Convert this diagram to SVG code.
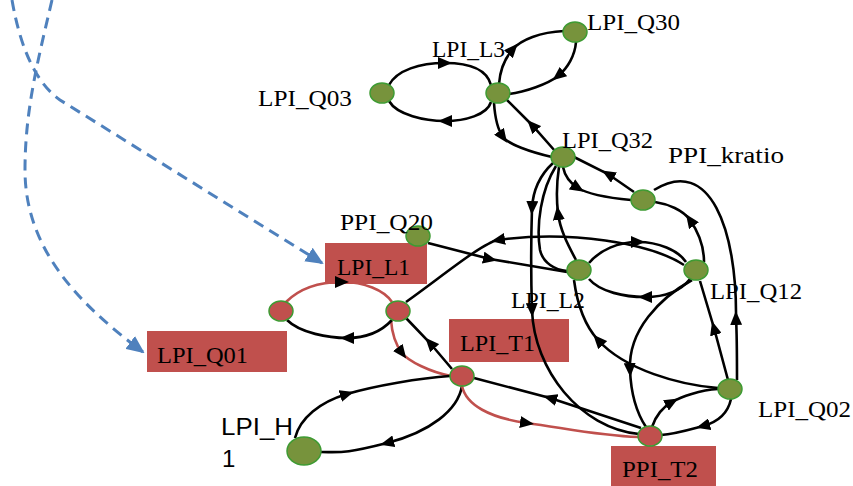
<svg xmlns="http://www.w3.org/2000/svg" width="853" height="486" viewBox="0 0 853 486">
<style>
.e{fill:none;stroke:#000;stroke-width:2.6;marker-mid:url(#ah)}
.plain{marker-mid:none}
.red{stroke:#C0504D}
.dash{fill:none;stroke:#4F81BD;stroke-width:3;stroke-dasharray:11 7;marker-end:url(#bh)}
.n{fill:#77933C;stroke:#3E9B33;stroke-width:1.5}
.nr{fill:#C0504D;stroke:#3E9B33;stroke-width:1.5}
.box{fill:#C0504D}
.t{font-family:"Liberation Serif","DejaVu Serif",serif;font-size:24px;fill:#000}
.ts{font-family:"Liberation Sans",Arial,sans-serif;font-size:24px;fill:#000}
</style>
<defs>
<marker id="ah" markerUnits="userSpaceOnUse" markerWidth="14" markerHeight="12" viewBox="0 0 14 12" refX="7" refY="6" orient="auto">
<path d="M0,0 L14,6 L0,12 Z" fill="#000"/>
</marker>
<marker id="bh" markerUnits="userSpaceOnUse" markerWidth="18" markerHeight="16" viewBox="0 0 18 16" refX="16" refY="8" orient="auto">
<path d="M0,0 L18,8 L0,16 Z" fill="#4F81BD"/>
</marker>
</defs>

<g id="highlight-boxes">
<rect class="box" x="325" y="243" width="102" height="41"/>
<rect class="box" x="147" y="331" width="140" height="41"/>
<rect class="box" x="449" y="319" width="120" height="43"/>
<rect class="box" x="611" y="446" width="105" height="40"/>
</g>

<g id="connectors">
<path class="dash" d="M12,0 Q25,75 60,100 L322,263"/>
<path class="dash" d="M52,0 C38,60 25,110 25,170 C25,250 80,305 143,352"/>
<path class="e" d="M389,85 C397,70 420,63 445,63 S487,70 491,85"/>
<path class="e" d="M491,102 C487,115 465,121 445,121 S397,115 389,101"/>
<path class="e" d="M499,84 C500,70 505,58 513,49 S540,32 564,31"/>
<path class="e" d="M576,42 C575,55 568,68 558,76 S525,92 509,94"/>
<path class="e" d="M494,103 C495,118 498,130 503,137 S530,152 552,157"/>
<path class="e" d="M555,151 L532,125 L506,99"/>
<path class="e" d="M634,192 L608,174 L574,157"/>
<path class="e" d="M563,167 C565,177 570,183 578,188 S600,197 631,200"/>
<path class="e" d="M704,262 C704,245 697,230 690,220 S668,204 655,202"/>
<path class="e" d="M737,380 C737,360 737,335 736,318 C737,230 710,155 654,190"/>
<path class="e" d="M553,163 C540,175 533,190 532,208 C531,240 531,280 532,310 C534,370 580,428 639,434"/>
<path class="e plain" d="M556,166 C541,190 536,225 540,250 C543,263 555,270 567,271"/>
<path class="e" d="M576,260 C568,245 560,230 558,213 S557,180 559,167"/>
<path class="e" d="M589,263 C600,250 618,242 638,242 S678,250 686,262"/>
<path class="e" d="M690,279 C680,292 665,297 645,297 S600,292 589,279"/>
<path class="e" d="M684,265 C650,243 570,230 498,240 C482,243 440,278 406,302"/>
<path class="e" d="M428,243 L490,259 L567,272"/>
<path class="e" d="M692,280 C660,298 628,330 630,370 C631,395 638,415 646,427"/>
<path class="e" d="M728,380 L714,328 L700,281"/>
<path class="e" d="M652,427 C656,415 663,407 672,402 S700,390 718,389"/>
<path class="e" d="M731,399 C728,413 718,422 703,426 S675,434 661,435"/>
<path class="e" d="M641,428 L550,398 L474,378"/>
<path class="e" d="M718,388 C680,385 625,370 598,340 C588,329 578,310 574,280"/>
<path class="e" d="M452,369 L430,343 L406,318"/>
<path class="e red" d="M391,320 C392,335 396,345 402,353 S430,372 451,376"/>
<path class="e red" d="M286,302 C300,288 320,282 342,282 S384,290 392,302"/>
<path class="e" d="M392,320 C380,333 365,338 347,338 S300,333 287,320"/>
<path class="e" d="M295,438 C300,418 320,402 347,394 S420,378 450,376"/>
<path class="e" d="M462,386 C458,410 430,432 387,443 S340,452 321,452"/>
<path class="e red" d="M462,386 C466,405 490,418 527,423 S600,436 638,437"/>
</g>

<g id="LPI_Q03"><ellipse class="n" cx="382" cy="93" rx="12" ry="10"/><text class="t" x="258" y="106" textLength="94" lengthAdjust="spacingAndGlyphs">LPI_Q03</text></g>
<g id="LPI_L3"><ellipse class="n" cx="498" cy="93" rx="12" ry="10"/><text class="t" x="432" y="57" textLength="73" lengthAdjust="spacingAndGlyphs">LPI_L3</text></g>
<g id="LPI_Q30"><ellipse class="n" cx="575" cy="32" rx="12" ry="10"/><text class="t" x="587" y="30" textLength="93" lengthAdjust="spacingAndGlyphs">LPI_Q30</text></g>
<g id="LPI_Q32"><ellipse class="n" cx="563" cy="157" rx="12" ry="10"/><text class="t" x="562" y="148" textLength="91" lengthAdjust="spacingAndGlyphs">LPI_Q32</text></g>
<g id="PPI_kratio"><ellipse class="n" cx="643" cy="200" rx="12" ry="10"/><text class="t" x="668" y="163" textLength="116" lengthAdjust="spacingAndGlyphs">PPI_kratio</text></g>
<g id="PPI_Q20"><ellipse class="n" cx="418" cy="236" rx="12" ry="10"/><text class="t" x="340" y="230" textLength="93" lengthAdjust="spacingAndGlyphs">PPI_Q20</text></g>
<g id="LPI_L2"><ellipse class="n" cx="579" cy="270" rx="12" ry="10"/><text class="t" x="511" y="308" textLength="74" lengthAdjust="spacingAndGlyphs">LPI_L2</text></g>
<g id="LPI_Q12"><ellipse class="n" cx="696" cy="270" rx="12" ry="10"/><text class="t" x="710" y="299" textLength="92" lengthAdjust="spacingAndGlyphs">LPI_Q12</text></g>
<g id="LPI_L1"><ellipse class="nr" cx="281" cy="311" rx="12" ry="10"/><ellipse class="nr" cx="398" cy="311" rx="12" ry="10"/><text class="t" x="337" y="275" textLength="73" lengthAdjust="spacingAndGlyphs">LPI_L1</text></g>
<g id="LPI_Q01"><text class="t" x="157" y="363" textLength="91" lengthAdjust="spacingAndGlyphs">LPI_Q01</text></g>
<g id="LPI_T1"><ellipse class="nr" cx="462" cy="376" rx="12" ry="10"/><text class="t" x="460" y="351" textLength="75" lengthAdjust="spacingAndGlyphs">LPI_T1</text></g>
<g id="LPI_H1"><ellipse class="n" cx="304" cy="451" rx="17" ry="14"/><text class="ts" x="221" y="435" textLength="72" lengthAdjust="spacingAndGlyphs">LPI_H</text><text class="ts" x="222" y="467">1</text></g>
<g id="PPI_T2"><ellipse class="nr" cx="650" cy="436" rx="12" ry="10"/><text class="t" x="622" y="477" textLength="76" lengthAdjust="spacingAndGlyphs">PPI_T2</text></g>
<g id="LPI_Q02"><ellipse class="n" cx="730" cy="389" rx="12" ry="10"/><text class="t" x="758" y="417" textLength="93" lengthAdjust="spacingAndGlyphs">LPI_Q02</text></g>
</svg>
